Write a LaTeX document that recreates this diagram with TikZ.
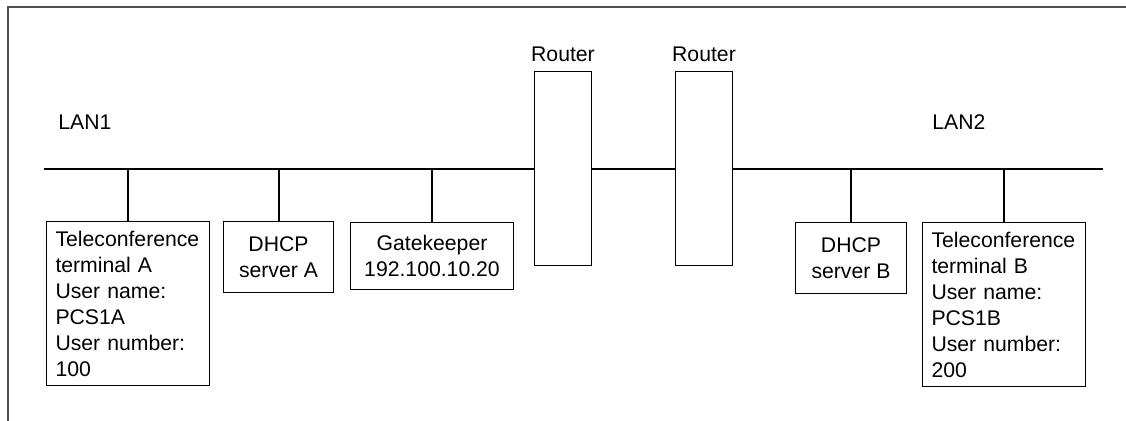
\documentclass[tikz,border=0pt]{standalone}
\usepackage{fontspec}
\setmainfont{Liberation Sans}
\usepackage{tikz}
\usetikzlibrary{positioning}
\definecolor{framegray}{RGB}{80,80,80}

\begin{document}
\begin{tikzpicture}[x=0.5pt,y=-0.5pt,
    font=\fontsize{10.6}{13}\selectfont,
    hostbox/.style={draw,line width=0.5pt,inner sep=0pt,align=center},
    termbox/.style={draw,line width=0.5pt,anchor=north west,align=left,
      minimum width=81.5pt,minimum height=82pt,inner xsep=4.5pt,
      text width=72.5pt},
    routerbox/.style={draw,line width=0.5pt,fill=white,anchor=north west,
      minimum width=28.5pt,minimum height=97pt,inner sep=0pt},
    lanwire/.style={line width=1pt}]
  \useasboundingbox (0,0) rectangle (1126,420);
  % outer frame (cut at the page edge)
  \draw[framegray,line width=0.7pt] (8,440) -- (8,7) -- (1140,7);
  % network labels
  \node[anchor=base west,inner sep=0pt] (lan1) at (58,129) {LAN1};
  \node[anchor=base west,inner sep=0pt] (lan2) at (932,129) {LAN2};
  % routers
  \node[routerbox,label={[label distance=1pt]above:Router}] (rtA) at (534,71) {};
  \node[routerbox,label={[label distance=1pt]above:Router}] (rtB) at (675,71) {};
  % bus ends
  \coordinate (busL) at (44,169);
  \coordinate (busR) at (1103,169);
  \draw[lanwire] (busL) -- (rtA.west |- busL);
  \draw[lanwire] (rtA.east |- busL) -- (rtB.west |- busL);
  \draw[lanwire] (rtB.east |- busL) -- (busR);
  % hosts on LAN1
  \node[termbox] (termA) at (46,221)
    {Teleconference\\terminal A\\User name:\\PCS1A\\User number:\\100};
  \node[hostbox,anchor=north west,minimum width=55pt,minimum height=35.5pt]
    (dhcpA) at (223,221) {DHCP\\server A};
  \node[hostbox,anchor=north west,minimum width=81.5pt,minimum height=33.5pt]
    (gk) at (350,222) {Gatekeeper\\192.100.10.20};
  % hosts on LAN2
  \node[hostbox,anchor=north west,minimum width=55.5pt,minimum height=35.5pt]
    (dhcpB) at (795,222) {DHCP\\server B};
  \node[termbox] (termB) at (922,222)
    {Teleconference\\terminal B\\User name:\\PCS1B\\User number:\\200};
  % drops to the bus
  \foreach \h in {termA,dhcpA,gk,dhcpB,termB}
    \draw[lanwire] (\h.north) -- (\h.north |- busL);
\end{tikzpicture}
\end{document}
